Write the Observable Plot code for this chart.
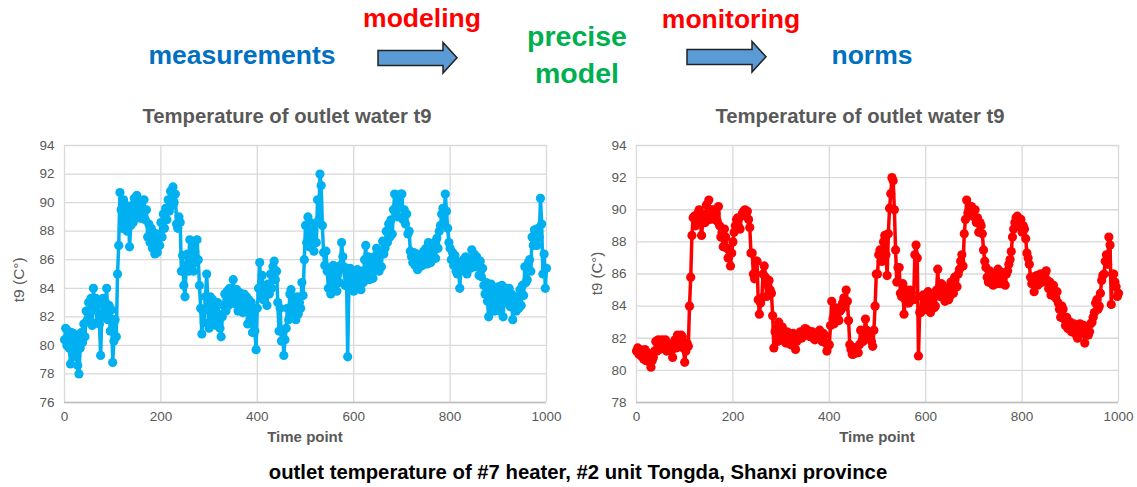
<!DOCTYPE html>
<html>
<head>
<meta charset="utf-8">
<script src="https://cdn.jsdelivr.net/npm/d3@7"></script>
<script src="https://cdn.jsdelivr.net/npm/@observablehq/plot@0.6"></script>
<style>
  html, body { margin: 0; padding: 0; background: #fff; }
  #root { position: relative; width: 1137px; height: 487px; overflow: hidden; font-family: "Liberation Sans", Arial, sans-serif; }
  .t { position: absolute; white-space: nowrap; font-weight: bold; line-height: 1; }
  .chart { position: absolute; }
</style>
</head>
<body>
<div id="root"></div>
<script>
// ---------- data ----------
const timeStart = 0, timeStep = 2.5; // time points 0, 2.5, ..., 1000
const measured = [
  80.4, 81.2, 80.0, 81.0, 79.8, 78.7, 80.9, 79.5,
  80.8, 79.2, 80.5, 78.6, 78.0, 79.8, 80.9, 80.2,
  81.5, 80.6, 82.4, 81.8, 83.0, 82.2, 83.3, 81.4,
  84.0, 82.5, 83.3, 81.6, 82.9, 81.5, 79.3, 82.2,
  83.3, 82.0, 83.0, 84.0, 81.8, 82.8, 81.0, 82.5,
  78.8, 80.3, 81.8, 80.6, 85.0, 87.0, 90.7, 89.5,
  88.2, 90.2, 88.6, 89.8, 88.0, 89.5, 86.9, 88.4,
  89.8, 88.6, 90.3, 89.2, 90.5, 89.0, 89.9, 88.9,
  90.0, 89.2, 90.2, 88.8, 89.5, 87.6, 88.5, 87.2,
  88.2, 86.8, 87.9, 86.4, 87.5, 86.5, 87.8, 87.0,
  88.6, 87.6, 89.2, 88.2, 89.6, 88.8, 90.2, 89.4,
  90.8, 89.8, 91.1, 90.0, 90.6, 88.5, 88.2, 89.0,
  88.6, 85.2, 86.3, 84.2, 83.4, 85.6, 86.4, 85.2,
  87.4, 85.6, 86.9, 85.2, 86.6, 85.8, 87.4, 86.0,
  84.2, 82.6, 80.8, 82.4, 81.6, 83.4, 85.0, 83.0,
  81.2, 83.4, 82.0, 83.2, 81.5, 82.8, 81.4, 83.0,
  82.2, 81.2, 80.6, 82.0, 82.8, 83.6, 82.4, 83.8,
  82.8, 84.0, 83.2, 83.8, 84.6, 83.4, 82.9, 83.9,
  82.4, 83.7, 82.6, 83.5, 82.3, 83.6, 82.8, 83.4,
  81.5, 83.2, 81.8, 83.0, 80.9, 82.4, 81.0, 79.7,
  82.6, 84.0, 85.8, 83.6, 84.9, 83.2, 84.2, 83.5,
  82.8, 84.3, 83.6, 85.0, 84.0, 85.5, 85.9, 84.6,
  85.2, 83.0, 81.0, 82.6, 80.3, 81.0, 79.3, 80.4,
  81.2, 82.6, 81.8, 83.6, 83.9, 82.4, 82.0, 83.3,
  81.8, 83.4, 82.2, 83.0, 82.6, 84.4, 83.5, 86.0,
  88.4, 87.2, 89.0, 86.9, 88.6, 87.2, 88.3, 86.6,
  88.5, 87.2, 90.2, 88.8, 92.0, 91.2, 88.4, 86.5,
  85.6, 86.6, 85.2, 84.0, 85.4, 83.6, 84.6, 85.6,
  84.2, 85.4, 83.8, 85.0, 84.4, 85.6, 87.2, 86.2,
  85.5, 84.2, 85.2, 79.2, 84.2, 85.4, 84.0, 85.2,
  83.8, 85.0, 84.2, 85.3, 84.0, 84.8, 83.9, 85.2,
  84.4, 86.0, 87.0, 85.0, 86.2, 84.6, 86.0, 85.0,
  84.7, 86.2, 85.3, 86.8, 86.6, 85.2, 86.4, 85.5,
  87.3, 86.4, 86.8, 88.0, 87.2, 88.5, 87.6, 88.8,
  87.8, 89.5, 90.6, 89.2, 90.4, 89.0, 90.1, 90.6,
  90.6, 88.8, 89.5, 88.5, 89.2, 87.8, 88.0, 86.6,
  86.2, 85.8, 86.5, 85.6, 86.4, 85.3, 86.2, 85.5,
  86.0, 85.6, 86.6, 85.8, 86.8, 85.7, 87.2, 86.4,
  85.8, 86.8, 86.2, 87.2, 86.1, 87.5, 86.8, 88.0,
  88.4, 89.2, 89.6, 88.6, 90.6, 89.4, 88.2, 87.2,
  86.8, 86.0, 86.5, 85.6, 86.3, 85.2, 85.0, 85.8,
  84.0, 85.4, 85.6, 86.0, 85.2, 86.2, 85.0, 85.8,
  86.0, 85.4, 86.7, 85.8, 86.4, 85.5, 86.2, 85.6,
  84.9, 85.9, 84.8, 85.4, 84.2, 83.6, 84.4, 83.1,
  82.0, 83.8, 84.3, 82.6, 83.9, 82.4, 83.8, 82.6,
  84.1, 82.4, 83.6, 84.2, 82.0, 83.4, 83.0, 84.0,
  83.2, 84.0, 82.7, 83.6, 81.8, 82.8, 83.0, 82.4,
  83.4, 82.6, 83.9, 82.8, 84.2, 83.5, 85.5, 84.4,
  84.6, 85.8, 86.0, 85.2, 87.6, 87.0, 88.1, 87.3,
  87.0, 88.2, 87.6, 90.3, 88.5, 85.0, 86.4, 84.0,
  85.4
];
const model = [
  81.2, 81.4, 81.0, 81.3, 80.9, 81.2, 80.7, 81.3,
  80.6, 81.1, 80.8, 80.5, 80.2, 80.6, 80.8, 81.2,
  81.8, 81.2, 81.9, 81.3, 81.6, 81.9, 81.4, 81.8,
  81.9, 81.2, 81.7, 81.3, 81.6, 81.2, 80.8, 81.5,
  81.9, 81.4, 82.2, 81.6, 81.5, 82.2, 82.1, 81.4,
  80.5, 81.2, 81.7, 81.5, 84.0, 85.8, 88.4, 89.5,
  89.6, 89.0, 89.5, 89.8, 90.0, 89.2, 88.4, 89.2,
  89.7, 89.2, 90.3, 89.5, 90.6, 89.4, 90.0, 89.5,
  90.0, 89.4, 89.8, 89.3, 90.2, 89.0, 88.3, 88.6,
  87.7, 88.8, 88.3, 87.6, 87.0, 87.5, 86.5, 87.3,
  88.0, 88.6, 89.0, 89.4, 89.5, 88.9, 88.8, 89.6,
  89.8, 89.9, 90.0, 89.7, 89.9, 89.4, 88.9, 87.3,
  87.3, 86.0, 85.7, 86.8, 86.8, 84.4, 83.5, 84.2,
  84.5, 86.0, 86.5, 85.8, 84.6, 85.3, 85.6, 85.0,
  84.8, 83.4, 81.4, 82.4, 82.6, 81.8, 83.0, 82.4,
  81.9, 82.7, 82.2, 81.8, 81.7, 82.4, 82.2, 81.8,
  81.6, 82.1, 82.3, 81.8, 81.3, 81.8, 82.0, 82.3,
  82.4, 82.0, 82.2, 82.5, 82.6, 82.2, 82.5, 82.3,
  82.1, 82.4, 82.4, 82.0, 81.9, 82.3, 82.3, 82.0,
  82.5, 82.1, 81.8, 82.3, 82.2, 81.7, 81.2, 81.5,
  81.6, 82.8, 84.3, 83.2, 82.9, 83.6, 83.9, 83.2,
  83.1, 83.7, 83.8, 84.2, 84.5, 84.0, 85.0, 84.3,
  83.1, 81.6, 81.3, 81.0, 81.0, 81.4, 81.4, 81.1,
  81.1, 81.6, 82.5, 81.8, 81.8, 82.4, 83.2, 82.5,
  82.0, 82.3, 82.3, 81.8, 81.5, 82.5, 84.0, 86.0,
  86.0, 87.2, 87.5, 86.8, 86.8, 88.0, 88.4, 87.2,
  85.9, 88.5, 90.1, 91.0, 92.0, 91.8, 90.0, 87.5,
  85.5, 86.4, 86.4, 84.8, 84.6, 85.4, 83.5, 84.4,
  85.0, 84.2, 84.2, 85.0, 84.8, 84.4, 84.4, 87.2,
  87.8, 87.0, 80.9, 83.6, 83.6, 84.6, 84.7, 83.8,
  83.8, 84.7, 84.9, 83.8, 83.6, 84.6, 84.5, 83.9,
  84.0, 85.0, 86.3, 84.9, 84.6, 85.4, 85.3, 84.5,
  84.3, 85.1, 85.0, 84.4, 84.6, 85.5, 85.4, 84.8,
  85.8, 85.2, 85.2, 86.0, 86.3, 86.8, 87.2, 86.5,
  88.5, 89.4, 90.6, 89.8, 89.7, 90.2, 90.2, 89.6,
  89.6, 90.0, 89.2, 89.5, 88.6, 89.2, 89.0, 88.5,
  87.5, 86.8, 86.4, 85.8, 85.5, 86.2, 86.1, 85.4,
  85.3, 86.0, 85.8, 85.4, 86.3, 85.8, 85.4, 86.1,
  86.0, 85.4, 85.3, 86.0, 86.2, 86.6, 86.9, 87.4,
  88.3, 88.8, 89.2, 89.5, 89.6, 89.2, 89.0, 89.4,
  88.6, 89.0, 88.8, 88.2, 87.3, 87.0, 86.6, 85.8,
  85.4, 85.8, 84.9, 85.5, 85.9, 85.3, 85.4, 86.0,
  86.0, 85.5, 85.6, 86.0, 86.2, 85.6, 85.1, 85.5,
  84.7, 85.3, 85.3, 84.6, 84.5, 84.9, 84.2, 83.8,
  83.3, 84.0, 83.8, 83.2, 82.8, 83.3, 82.6, 83.0,
  83.0, 82.4, 82.4, 82.9, 82.8, 82.2, 82.0, 82.6,
  82.9, 82.4, 82.3, 82.8, 81.7, 82.3, 82.6, 82.2,
  82.4, 82.9, 83.0, 83.3, 83.6, 84.2, 84.4, 83.8,
  84.0, 84.8, 85.6, 85.9, 86.0, 86.8, 87.2, 86.6,
  88.3, 87.8, 84.1, 86.0, 86.0, 85.5, 85.2, 84.6,
  84.8
];
const xTicks = [0, 200, 400, 600, 800, 1000];
const yTicksLeft = [76, 78, 80, 82, 84, 86, 88, 90, 92, 94];
const yTicksRight = [78, 80, 82, 84, 86, 88, 90, 92, 94];
const chartTitle = "Temperature of outlet water t9";
const xLabel = "Time point";
const yLabel = "t9 (C°)";
const caption = "outlet temperature of #7 heater, #2 unit Tongda, Shanxi province";

// ---------- layout ----------
const root = document.getElementById("root");
function addText(txt, opts) {
  const d = document.createElement("div");
  d.className = "t";
  d.textContent = txt;
  Object.assign(d.style, opts);
  root.appendChild(d);
  return d;
}
function placeText(txt, cx, baseline, size, color, weight) {
  const d = addText(txt, { fontSize: size + "px", color: color, fontWeight: weight || "bold" });
  d.style.top = (baseline - size * 0.905) + "px";
  d.style.left = "0px";
  const w = d.getBoundingClientRect().width;
  d.style.left = (cx - w / 2) + "px";
  return d;
}

// header flow
placeText("measurements", 242, 66, 26.5, "#0070c0");
placeText("modeling", 422, 29, 26.5, "#ff0000");
placeText("precise", 577, 48, 28.5, "#00b050");
placeText("model", 577, 85, 28.5, "#00b050");
placeText("monitoring", 731, 30, 26.5, "#ff0000");
placeText("norms", 872, 66, 26.5, "#0070c0");

// arrows
const svgNS = "http://www.w3.org/2000/svg";
const arrowSvg = document.createElementNS(svgNS, "svg");
arrowSvg.setAttribute("width", 1137);
arrowSvg.setAttribute("height", 100);
arrowSvg.style.position = "absolute";
arrowSvg.style.left = "0px";
arrowSvg.style.top = "0px";
function arrow(x0, xh, xt, yb0, yb1, yh0, yh1) {
  const ym = (yh0 + yh1) / 2;
  const p = document.createElementNS(svgNS, "path");
  p.setAttribute("d", `M${x0},${yb0}L${xh},${yb0}L${xh},${yh0}L${xt},${ym}L${xh},${yh1}L${xh},${yb1}L${x0},${yb1}Z`);
  p.setAttribute("fill", "#5b9bd5");
  p.setAttribute("stroke", "#222");
  p.setAttribute("stroke-width", "1.5");
  arrowSvg.appendChild(p);
}
arrow(378, 443, 457, 50.5, 65.5, 42.5, 73);
arrow(687, 752, 766, 49.5, 64.5, 41.5, 72);
root.appendChild(arrowSvg);

// ---------- charts ----------
function makeChart(values, color, yTicks, left, marginLeft, marginRight) {
  const data = values.map((v, i) => ({ t: timeStart + i * timeStep, v }));
  const chart = Plot.plot({
    width: 567,
    height: 317,
    marginLeft, marginRight,
    marginTop: 15,
    marginBottom: 45,
    style: { fontFamily: '"Liberation Sans", Arial, sans-serif', fontSize: "13.5px", color: "#595959", background: "transparent" },
    x: { domain: [0, 1000], label: null },
    y: { domain: [yTicks[0], yTicks[yTicks.length - 1]], label: null },
    marks: [
      Plot.gridX(xTicks, { stroke: "#d9d9d9", strokeOpacity: 1, strokeWidth: 1.3 }),
      Plot.gridY(yTicks, { stroke: "#d9d9d9", strokeOpacity: 1, strokeWidth: 1.3 }),
      Plot.ruleY([yTicks[0]], { stroke: "#bfbfbf", strokeWidth: 1.5 }),
      Plot.line(data, { x: "t", y: "v", stroke: color, strokeWidth: 3.5 }),
      Plot.dot(data, { x: "t", y: "v", r: 4.6, fill: color, stroke: "none" }),
      Plot.axisX(xTicks, { tickSize: 0, tickPadding: 9, fill: "#595959", tickFormat: d => String(d) }),
      Plot.axisY(yTicks, { tickSize: 0, tickPadding: 10, fill: "#595959", tickFormat: d => String(d) })
    ]
  });
  chart.classList.add("chart");
  chart.style.left = left + "px";
  chart.style.top = "130px";
  root.appendChild(chart);
}
makeChart(measured, "#00b0f0", yTicksLeft, 0, 64, 567 - 64 - 482);
makeChart(model, "#ff0000", yTicksRight, 570, 66, 567 - 66 - 482);

// titles and axis labels
placeText(chartTitle, 287, 124, 20.3, "#595959");
placeText(chartTitle, 860, 124, 20.3, "#595959");
placeText(xLabel, 305, 443, 15, "#595959");
placeText(xLabel, 877, 443, 15, "#595959");

function yLab(cx, cy, size) {
  const d = addText(yLabel, { fontSize: size + "px", color: "#595959", fontWeight: "normal" });
  const r = d.getBoundingClientRect();
  d.style.left = (cx - r.width / 2) + "px";
  d.style.top = (cy - r.height / 2) + "px";
  d.style.transform = "rotate(-90deg)";
  d.style.transformOrigin = "50% 50%";
}
yLab(18, 280, 15.5);
yLab(597, 273, 15);

placeText(caption, 578, 480, 20.3, "#000000");
</script>
</body>
</html>
